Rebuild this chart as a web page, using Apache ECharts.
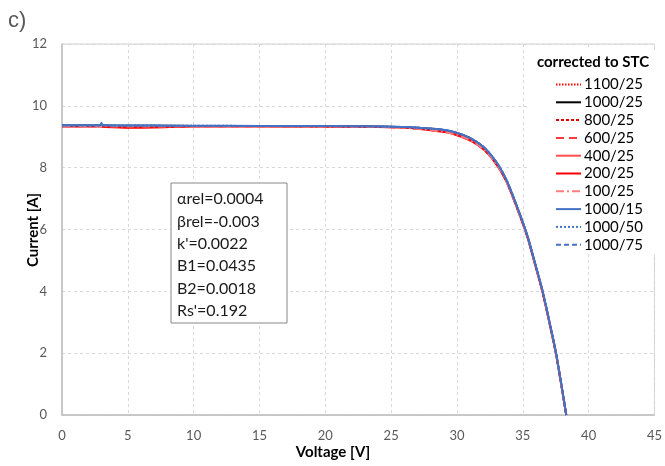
<!DOCTYPE html>
<html>
<head>
<meta charset="utf-8">
<script src="https://cdn.jsdelivr.net/npm/echarts@6/dist/echarts.min.js"></script>
<style>
  html, body { margin: 0; padding: 0; background: #fff; }
  #chart { width: 665px; height: 466px; }
</style>
</head>
<body>
<div id="chart"></div>
<script>
// voltage grid shared by all the curves [V]
const voltage = [0, 2.9, 3.0, 3.1, 5, 7, 10, 15, 20, 24, 26, 27, 28, 29.1, 30, 31.1, 32.1, 33.1, 33.8, 34.5, 35.3, 35.9, 36.5, 37.0, 37.5, 37.9, 38.3];

// current [A] per condition (irradiance/temperature)
const i1100_25 = [9.36, 9.36, 9.36, 9.36, 9.355, 9.35, 9.35, 9.345, 9.34, 9.33, 9.30, 9.28, 9.24, 9.18, 9.09, 8.90, 8.60, 8.08, 7.53, 6.78, 5.83, 4.93, 3.98, 3.03, 2.03, 1.04, 0];
const i1000_25 = [9.36, 9.36, 9.36, 9.36, 9.355, 9.355, 9.35, 9.345, 9.34, 9.33, 9.31, 9.29, 9.26, 9.21, 9.12, 8.93, 8.63, 8.10, 7.55, 6.80, 5.85, 4.95, 4.00, 3.05, 2.05, 1.05, 0];
const i800_25 = [9.35, 9.35, 9.35, 9.35, 9.345, 9.345, 9.345, 9.34, 9.335, 9.325, 9.30, 9.27, 9.23, 9.17, 9.07, 8.88, 8.58, 8.06, 7.52, 6.77, 5.83, 4.93, 3.98, 3.03, 2.03, 1.04, 0];
const i600_25 = [9.34, 9.34, 9.34, 9.33, 9.31, 9.32, 9.34, 9.34, 9.335, 9.32, 9.29, 9.26, 9.22, 9.16, 9.06, 8.87, 8.57, 8.05, 7.51, 6.76, 5.82, 4.92, 3.97, 3.02, 2.02, 1.03, 0];
const i400_25 = [9.34, 9.34, 9.34, 9.34, 9.32, 9.33, 9.34, 9.34, 9.33, 9.32, 9.30, 9.27, 9.23, 9.18, 9.08, 8.89, 8.59, 8.07, 7.53, 6.78, 5.83, 4.93, 3.98, 3.03, 2.03, 1.04, 0];
const i200_25 = [9.33, 9.33, 9.33, 9.32, 9.29, 9.30, 9.33, 9.335, 9.33, 9.315, 9.29, 9.26, 9.21, 9.15, 9.05, 8.86, 8.56, 8.04, 7.51, 6.76, 5.82, 4.92, 3.97, 3.02, 2.02, 1.03, 0];
const i100_25 = [9.34, 9.34, 9.34, 9.34, 9.33, 9.33, 9.34, 9.34, 9.33, 9.32, 9.29, 9.26, 9.22, 9.15, 9.06, 8.87, 8.57, 8.06, 7.52, 6.77, 5.83, 4.93, 3.98, 3.03, 2.03, 1.04, 0];
const i1000_15 = [9.37, 9.37, 9.45, 9.37, 9.365, 9.36, 9.355, 9.35, 9.345, 9.335, 9.315, 9.295, 9.265, 9.215, 9.125, 8.935, 8.635, 8.11, 7.56, 6.81, 5.86, 4.96, 4.01, 3.06, 2.06, 1.06, 0];
const i1000_50 = [9.365, 9.365, 9.365, 9.365, 9.36, 9.36, 9.355, 9.35, 9.345, 9.335, 9.315, 9.295, 9.265, 9.215, 9.125, 8.94, 8.64, 8.12, 7.57, 6.82, 5.87, 4.97, 4.02, 3.07, 2.07, 1.07, 0];
const i1000_75 = [9.365, 9.365, 9.365, 9.365, 9.36, 9.36, 9.355, 9.35, 9.345, 9.335, 9.32, 9.30, 9.27, 9.22, 9.13, 8.945, 8.645, 8.125, 7.575, 6.825, 5.875, 4.975, 4.02, 3.07, 2.07, 1.07, 0];

const seriesNames = ['1100/25', '1000/25', '800/25', '600/25', '400/25', '200/25', '100/25', '1000/15', '1000/50', '1000/75'];
const seriesCurrents = [i1100_25, i1000_25, i800_25, i600_25, i400_25, i200_25, i100_25, i1000_15, i1000_50, i1000_75];

const paramLines = ["αrel=0.0004", "βrel=-0.003", "k'=0.0022", "B1=0.0435", "B2=0.0018", "Rs'=0.192"];

// line look per series, same order as seriesNames
const lineLooks = [
  { color: '#FF0000', width: 1, type: [1.5, 1.5] },
  { color: '#000000', width: 2, type: 'solid' },
  { color: '#E00000', width: 1.5, type: [3, 2] },
  { color: '#FF3B3B', width: 2, type: [8, 5] },
  { color: '#FF5050', width: 1.25, type: 'solid' },
  { color: '#FF0000', width: 2, type: 'solid' },
  { color: '#FF7C80', width: 2, type: [8, 3, 2, 3] },
  { color: '#4472C4', width: 2, type: 'solid' },
  { color: '#4472C4', width: 2, type: [2, 2] },
  { color: '#4472C4', width: 1.5, type: [5, 3] },
];

const FONT = 'Lato, "Liberation Sans", sans-serif';

const buildSeries = () => {
  return seriesNames.map((name, index) => {
    const look = lineLooks[index];
    return {
      name,
      type: 'line',
      z: 3,
      showSymbol: false,
      symbol: 'none',
      smooth: 0.25,
      color: look.color,
      lineStyle: { color: look.color, width: look.width, type: look.type },
      data: voltage.map((v, k) => [v, seriesCurrents[index][k]]),
    };
  });
};

const chart = echarts.init(document.getElementById('chart'));

const option = {
  animation: false,
  textStyle: { fontFamily: FONT },
  grid: {
    left: 62,
    right: 8,
    top: 44,
    bottom: 51,
    show: true,
    borderColor: '#D0D0D0',
    borderWidth: 1,
  },
  xAxis: {
    type: 'value',
    min: 0,
    max: 45,
    interval: 5,
    axisLine: { lineStyle: { color: '#BFBFBF', width: 1.5 } },
    axisTick: { show: false },
    axisLabel: { color: '#595959', fontSize: 13, margin: 14, fontFamily: FONT },
    splitLine: { lineStyle: { color: '#D9D9D9', type: [3, 3] } },
  },
  yAxis: {
    type: 'value',
    min: 0,
    max: 12,
    interval: 2,
    axisLine: { show: true, lineStyle: { color: '#BFBFBF', width: 1.5 } },
    axisTick: { show: false },
    axisLabel: { color: '#595959', fontSize: 13, margin: 15, fontFamily: FONT },
    splitLine: { lineStyle: { color: '#D9D9D9', type: [3, 3] } },
  },
  legend: {
    orient: 'vertical',
    z: 1,
    left: 528,
    top: 50,
    padding: [27, 12, 2, 27],
    backgroundColor: '#fff',
    itemWidth: 25,
    itemHeight: 14,
    itemGap: 2.8,
    selectedMode: false,
    itemStyle: { opacity: 0 },
    data: seriesNames,
    textStyle: { fontSize: 15, lineHeight: 14, color: '#000', fontFamily: FONT, padding: [0, 0, 0, -2] },
  },
  graphic: [
    {
      type: 'text',
      left: 8,
      top: 10,
      style: { text: 'c)', font: '22px "Liberation Sans", Arial, sans-serif', fill: '#595959' },
    },
    {
      type: 'text',
      x: 333,
      y: 452,
      style: {
        text: 'Voltage [V]',
        font: 'bold 15px ' + FONT,
        fill: '#000',
        textAlign: 'center',
        textVerticalAlign: 'middle',
      },
    },
    {
      type: 'text',
      x: 33,
      y: 230,
      rotation: Math.PI / 2,
      style: {
        text: 'Current [A]',
        font: 'bold 15px ' + FONT,
        fill: '#000',
        textAlign: 'center',
        textVerticalAlign: 'middle',
      },
    },
    {
      type: 'text',
      z: 100,
      x: 593,
      y: 62,
      style: {
        text: 'corrected to STC',
        font: 'bold 15px ' + FONT,
        fill: '#000',
        textAlign: 'center',
        textVerticalAlign: 'middle',
      },
    },
    {
      type: 'rect',
      z: 100,
      shape: { x: 171, y: 183, width: 116, height: 140 },
      style: { fill: '#fff', stroke: '#888', lineWidth: 1 },
    },
    {
      type: 'text',
      z: 101,
      x: 177,
      y: 188,
      style: {
        text: paramLines.join('\n'),
        font: '16px ' + FONT,
        lineHeight: 22.3,
        fill: '#1a1a1a',
        textVerticalAlign: 'top',
      },
    },
  ],
  series: buildSeries(),
};

chart.setOption(option);
</script>
</body>
</html>
